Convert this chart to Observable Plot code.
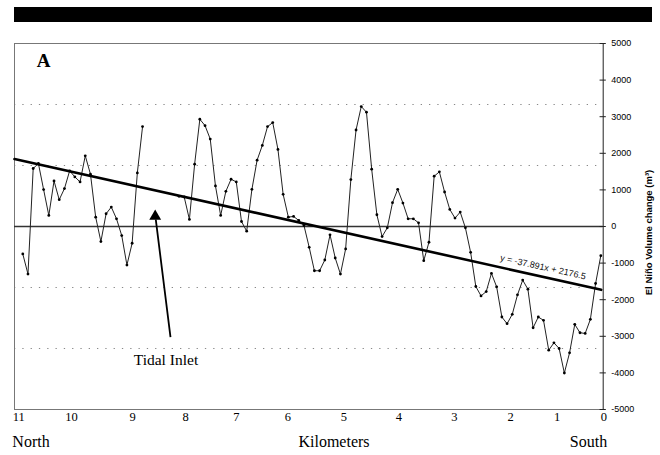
<!DOCTYPE html>
<html>
<head>
<meta charset="utf-8">
<script src="https://cdn.jsdelivr.net/npm/d3@7"></script>
<script src="https://cdn.jsdelivr.net/npm/@observablehq/plot@0.6"></script>
<style>
  html, body { margin: 0; padding: 0; background: #fff; }
  #wrap { position: relative; width: 660px; height: 455px; }
  #band { position: absolute; left: 14px; top: 7px; width: 638px; height: 15px; background: #000; }
  #chart { position: absolute; left: 0; top: 0; }
</style>
</head>
<body>
<div id="wrap"><div id="chart"></div><div id="band"></div></div>
<script>
// Volume change per profile (index along shore, North -> South); null = no data
const volume = [
  -750, -1300, 1585, 1722, 1008, 302, 1245, 733, 1035, 1520,
  1355, 1218, 1932, 1429, 256, -412, 348, 531, 211, -247,
  -1053, -458, 1465, 2729, null, null, null, null, null, null,
  824, 806, 192, 1703, 2930, 2756, 2390, 1108, 302, 962,
  1291, 1218, 137, -128, 1016, 1813, 2216, 2729, 2839, 2106,
  879, 256, 275, 165, 27, -568, -1209, -1209, -915, -228,
  -860, -1300, -613, 1282, 2637, 3278, 3123, 1566, 321, -275,
  -37, 651, 1016, 641, 211, 211, 101, -934, -430, 1374,
  1493, 943, 467, 229, 394, -37, -705, -1640, -1896, -1777,
  -1282, -1648, -2473, -2656, -2399, -1868, -1465, -1712, -2766, -2473,
  -2564, -3379, -3178, -3333, -4003, -3452, -2674, -2903, -2921, -2536,
  -1557, -797
];
const kmLabels = ["11", "10", "9", "8", "7", "6", "5", "4", "3", "2", "1", "0"];
const kmTickPos = [0.23, 10.35, 22.07, 32.25, 42.04, 51.9, 62.65, 73.2, 83.9, 94.66, 103.6, 112.6];
const yTicks = [-5000, -4000, -3000, -2000, -1000, 0, 1000, 2000, 3000, 4000, 5000];
const gridValues = [3333, 1667, -1667, -3333];
const trendX = [-0.59, 112.08];
const trendY = [1842, -1730];
const equation = "y = -37.891x + 2176.5";
const bottomLabels = ["North", "Kilometers", "South"];
const bottomPos = [2.58, 60.77, 109.64];
const yTitle = "El Niño Volume change (m³)";

const xMin = -0.59, xMax = 112.46;
const series = volume.map((v, i) => ({i: i + 1, v}));
const trend = trendX.map((x, k) => ({x, y: trendY[k]}));
const serif = "'Liberation Serif', 'Times New Roman', serif";
const sans = "'Liberation Sans', Arial, sans-serif";

const chart = Plot.plot({
  width: 660,
  height: 455,
  marginLeft: 14,
  marginRight: 57.3,
  marginTop: 43,
  marginBottom: 46,
  x: {domain: [xMin, xMax], axis: null},
  y: {domain: [-5000, 5000], axis: null},
  style: {background: "transparent", color: "#000"},
  marks: [
    Plot.ruleY(gridValues, {stroke: "#888", strokeDasharray: "1.3,7"}),
    Plot.ruleY([5000], {stroke: "#777", strokeWidth: 1}),
    Plot.ruleY([-5000], {stroke: "#777", strokeWidth: 1}),
    Plot.ruleX([xMin], {stroke: "#777", strokeWidth: 1}),
    Plot.ruleY([0], {stroke: "#333", strokeWidth: 1.4}),
    Plot.ruleX([xMax], {stroke: "#222", strokeWidth: 1}),
    Plot.ruleY(yTicks, {x1: xMax - 0.6, x2: xMax + 0.6, stroke: "#222"}),
    Plot.axisY({anchor: "right", ticks: yTicks, tickSize: 0, tickPadding: 8, fontSize: 9, fontFamily: sans, tickFormat: d => String(d), label: null}),
    Plot.line(series, {x: "i", y: "v", stroke: "#222", strokeWidth: 1}),
    Plot.dot(series.filter(d => d.v != null), {x: "i", y: "v", r: 1.4, fill: "#000", stroke: null}),
    Plot.line(trend, {x: "x", y: "y", stroke: "#000", strokeWidth: 2.6}),
    Plot.text([equation], {x: 100.9, y: -1112, rotate: 12.5, fontSize: 9, fontFamily: sans, fill: "#111"}),
    Plot.link([{x1: 29.37, y1: -3025, x2: 26.54, y2: 191}], {x1: "x1", y1: "y1", x2: "x2", y2: "y2", stroke: "#000", strokeWidth: 1.8}),
    Plot.dot([{x: 26.43, y: 279}], {x: "x", y: "y", symbol: "triangle", r: 4.4, fill: "#000", stroke: null}),
    Plot.text(["Tidal Inlet"], {x: 28.5, y: -3661, fontSize: 15.5, fontFamily: serif, lineAnchor: "middle"}),
    Plot.text(["A"], {x: 4.98, y: 4536, fontSize: 19, fontWeight: "bold", fontFamily: serif, lineAnchor: "middle"}),
    Plot.text(kmLabels, {x: (d, i) => kmTickPos[i], frameAnchor: "bottom", dy: 7.7, lineAnchor: "middle", fontSize: 12.5, fontFamily: serif}),
    Plot.text(bottomLabels, {x: (d, i) => bottomPos[i], frameAnchor: "bottom", dy: 32.7, lineAnchor: "middle", fontSize: 16, fontFamily: serif}),
    Plot.text([yTitle], {x: xMax, y: -164, dx: 45.6, rotate: -90, fontSize: 9.5, fontWeight: "bold", fontFamily: sans, lineAnchor: "middle"})
  ]
});
document.getElementById("chart").appendChild(chart);
</script>
</body>
</html>
